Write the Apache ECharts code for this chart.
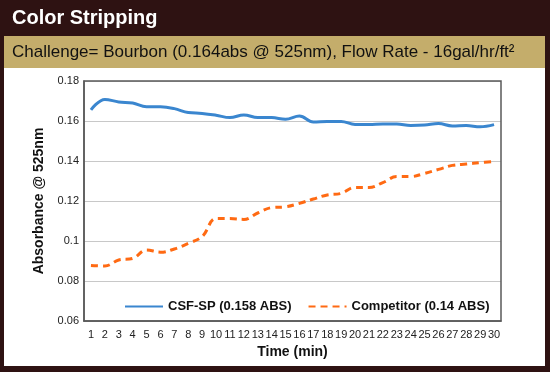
<!DOCTYPE html>
<html>
<head>
<meta charset="utf-8">
<script src="https://cdn.jsdelivr.net/npm/echarts@6/dist/echarts.min.js"></script>
<style>html,body{margin:0;padding:0;background:#2e1212;}#c{width:550px;height:372px;}</style>
</head>
<body>
<div id="c"></div>
<script>
var categories = ['1','2','3','4','5','6','7','8','9','10','11','12','13','14','15','16','17','18','19','20','21','22','23','24','25','26','27','28','29','30'];
var csfValues = [0.1656,0.1708,0.1695,0.1690,0.1671,0.1671,0.1662,0.1642,0.1638,0.1629,0.1617,0.1630,0.1617,0.1617,0.1609,0.1625,0.1595,0.1598,0.1598,0.1583,0.1583,0.1585,0.1585,0.1578,0.1580,0.1587,0.1575,0.1577,0.1571,0.1582];
var competitorValues = [0.0878,0.0875,0.0905,0.0913,0.0955,0.0944,0.0960,0.0988,0.1022,0.1112,0.1112,0.1108,0.1140,0.1167,0.1171,0.1188,0.1210,0.1230,0.1238,0.1268,0.1268,0.1292,0.1322,0.1322,0.1338,0.1358,0.1378,0.1385,0.1392,0.1398];
var seriesNames = ['CSF-SP (0.158 ABS)', 'Competitor (0.14 ABS)'];
var titleText = 'Color Stripping';
var subtitleText = 'Challenge= Bourbon (0.164abs @ 525nm), Flow Rate - 16gal/hr/ft²';
var xTitle = 'Time (min)';
var yTitle = 'Absorbance @ 525nm';

var chart = echarts.init(document.getElementById('c'));
var font = '"Liberation Sans", Arial, sans-serif';
chart.setOption({
  backgroundColor: '#2e1212',
  animation: false,
  graphic: [
    {type:'rect', shape:{x:4,y:36,width:541,height:32}, style:{fill:'#c4ad6b'}, z:0},
    {type:'rect', shape:{x:4,y:68,width:541,height:298}, style:{fill:'#ffffff'}, z:0},
    {type:'text', left:12, top:8, style:{text:titleText, fill:'#ffffff', font:'bold 20px ' + font}, z:5},
    {type:'text', left:12, top:44, style:{text:subtitleText, fill:'#111111', font:'17px ' + font}, z:5}
  ],
  grid: {left:84, top:81, width:417, height:240, show:true, borderColor:'#595959', borderWidth:1.5, backgroundColor:'transparent', z:2},
  legend: {
    left:119, top:295, itemWidth:38, itemHeight:12, itemGap:16,
    itemStyle:{opacity:0},
    textStyle:{fontFamily:font, fontWeight:'bold', fontSize:13, color:'#111'},
    data:[{name:seriesNames[0]},{name:seriesNames[1]}]
  },
  xAxis: {
    type:'category', data:categories, boundaryGap:true,
    name:xTitle, nameLocation:'middle', nameGap:23,
    nameTextStyle:{fontFamily:font, fontWeight:'bold', fontSize:14, color:'#111'},
    axisLine:{lineStyle:{color:'#595959', width:1.5}},
    axisTick:{show:false},
    axisLabel:{interval:0, fontFamily:font, fontSize:11, color:'#222', margin:8}
  },
  yAxis: {
    type:'value', min:0.06, max:0.18, interval:0.02,
    name:yTitle, nameLocation:'middle', nameGap:38,
    nameTextStyle:{fontFamily:font, fontWeight:'bold', fontSize:14, color:'#111'},
    axisLine:{show:true, lineStyle:{color:'#595959', width:1.5}},
    axisTick:{show:false},
    splitLine:{lineStyle:{color:'#c8c8c8', width:1}},
    axisLabel:{fontFamily:font, fontSize:11, color:'#222', margin:5, formatter:function(v){return String(parseFloat(v.toFixed(2)));}}
  },
  series: [
    {name:seriesNames[0], type:'line', data:csfValues, smooth:0.4, symbol:'none',
     lineStyle:{color:'#3a86cf', width:3}, itemStyle:{color:'#3a86cf'}, z:3},
    {name:seriesNames[1], type:'line', data:competitorValues, smooth:0.4, symbol:'none',
     lineStyle:{color:'#ff6a13', width:3, type:[7,5]}, itemStyle:{color:'#ff6a13'}, z:3}
  ]
});
</script>
</body>
</html>
